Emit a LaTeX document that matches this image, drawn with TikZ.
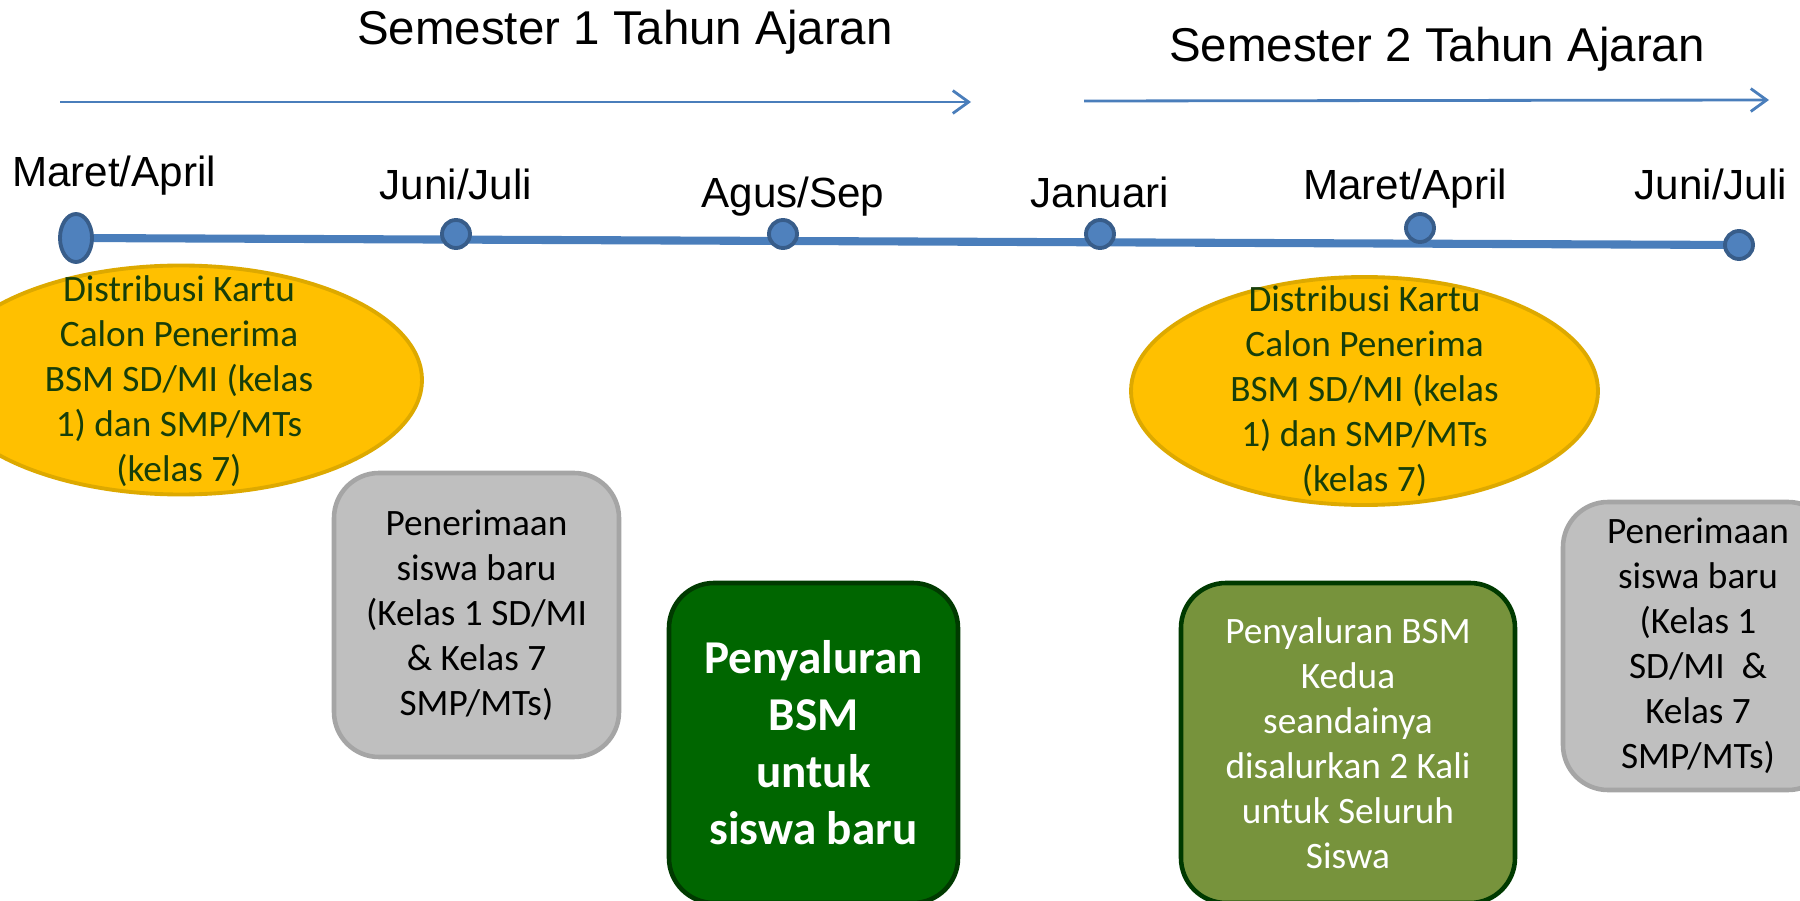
\documentclass[tikz,border=0pt]{standalone}
\usepackage{fontspec}
\setmainfont{Liberation Sans}
\newfontfamily\calibri{Carlito}
\usetikzlibrary{arrows.meta, shapes, backgrounds}

\definecolor{lineblue}{HTML}{4A7EBB}
\definecolor{dotblue}{HTML}{4F81BD}
\definecolor{dotedge}{HTML}{385D8A}
\definecolor{kartufill}{HTML}{FFC000}
\definecolor{kartuedge}{HTML}{DDA900}
\definecolor{kartutext}{HTML}{163E0A}
\definecolor{abufill}{HTML}{BFBFBF}
\definecolor{abuedge}{HTML}{A5A5A5}
\definecolor{hijautua}{HTML}{006600}
\definecolor{hijauedge}{HTML}{003A00}
\definecolor{zaitun}{HTML}{77933C}

\begin{document}
\begin{tikzpicture}

\tikzset{
  % titles and month labels
  judul/.style={font=\fontsize{13.5}{15}\selectfont, anchor=base},
  bulan/.style={font=\fontsize{12}{14}\selectfont, anchor=base},
  semester/.style={draw=lineblue, line width=0.8pt, -{Straight Barb[length=4.5pt,width=6.5pt]}},
  % points on the time line
  titik/.style={circle, draw=dotedge, fill=dotblue, line width=1.1pt,
    minimum size=0.28cm, inner sep=0pt},
  garis/.style={draw=lineblue, line width=2.3pt},
  teks/.style={align=center, font=\calibri\fontsize{10.6}{12.8}\selectfont},
  kartu/.style={ellipse, draw=kartuedge, fill=kartufill, line width=1.1pt, inner sep=0pt},
  kotak/.style={rounded corners=0.45cm, line width=1.3pt, inner sep=0pt, teks},
}

\useasboundingbox (0,0) rectangle (18,-9.01);
\clip (0,0) rectangle (18,-9.01);

\node[judul] (semA) at (6.25,-0.45) {Semester 1 Tahun Ajaran};
\node[judul] (semB) at (14.37,-0.62) {Semester 2 Tahun Ajaran};

\coordinate (panahA1) at (0.60,-1.02);
\coordinate (panahA2) at (9.71,-1.02);
\coordinate (panahB1) at (10.84,-1.01);
\coordinate (panahB2) at (17.69,-1.00);
\draw[semester] (panahA1) -- (panahA2);
\draw[semester] (panahB1) -- (panahB2);

\node[bulan] (bln1) at (1.14,-1.87) {Maret/April};
\node[bulan] (bln2) at (4.56,-2.00) {Juni/Juli};
\node[bulan] (bln3) at (7.93,-2.08) {Agus/Sep};
\node[bulan] (bln4) at (11.00,-2.08) {Januari};
\node[bulan] (bln5) at (14.05,-2.00) {Maret/April};
\node[bulan] (bln6) at (17.11,-2.00) {Juni/Juli};

\node[titik, ellipse, minimum width=0.32cm, minimum height=0.48cm] (t1) at (0.76,-2.38) {};
\node[titik] (t2) at (4.56,-2.34) {};
\node[titik] (t3) at (7.83,-2.34) {};
\node[titik] (t4) at (11.00,-2.34) {};
\node[titik] (t5) at (14.20,-2.28) {};
\node[titik] (t6) at (17.39,-2.45) {};
\begin{scope}[on background layer]
  \draw[garis] (t1.center) -- (t6.center);
\end{scope}

% yellow ellipses, text runs over the edge
\node[kartu, minimum width=4.82cm, minimum height=2.29cm] (kartuA) at (1.81,-3.80) {};
\node[teks, text=kartutext] (kartuAteks) at (1.79,-3.81)
  {Distribusi Kartu\\Calon Penerima\\BSM SD/MI (kelas\\1) dan SMP/MTs\\(kelas 7)};
\node[kartu, minimum width=4.67cm, minimum height=2.28cm] (kartuB) at (13.645,-3.91) {};
\node[teks, text=kartutext] (kartuBteks) at (13.645,-3.91)
  {Distribusi Kartu\\Calon Penerima\\BSM SD/MI (kelas\\1) dan SMP/MTs\\(kelas 7)};

\node[kotak, draw=abuedge, fill=abufill, minimum width=2.85cm, minimum height=2.84cm]
  (terimaA) at (4.765,-6.15)
  {Penerimaan\\siswa baru\\(Kelas 1 SD/MI\\\& Kelas 7\\SMP/MTs)};
\node[kotak, draw=abuedge, fill=abufill, minimum width=2.70cm, minimum height=2.88cm]
  (terimaB) at (16.98,-6.46)
  {Penerimaan\\siswa baru\\(Kelas 1\\SD/MI\ \ \&\\Kelas 7\\SMP/MTs)};

\node[kotak, draw=hijauedge, fill=hijautua, text=white, minimum width=2.89cm, minimum height=3.20cm,
  font=\calibri\bfseries\fontsize{13.4}{16.2}\selectfont]
  (salurA) at (8.135,-7.43)
  {Penyaluran\\BSM\\untuk\\siswa baru};
\node[kotak, draw=hijauedge, fill=zaitun, text=white, minimum width=3.34cm, minimum height=3.20cm]
  (salurB) at (13.48,-7.43)
  {Penyaluran BSM\\Kedua\\seandainya\\disalurkan 2 Kali\\untuk Seluruh\\Siswa};

\end{tikzpicture}
\end{document}
